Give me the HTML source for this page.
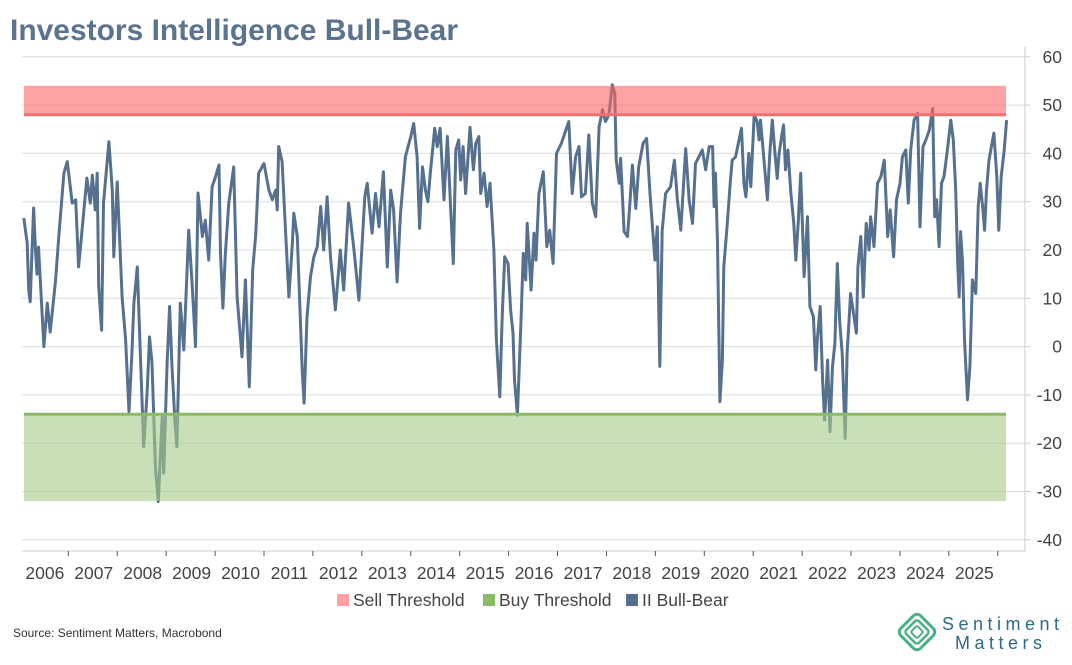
<!DOCTYPE html>
<html><head><meta charset="utf-8">
<style>
body{margin:0;background:#fff;width:1072px;height:660px;overflow:hidden;font-family:"Liberation Sans",sans-serif;}
svg text{font-family:"Liberation Sans",sans-serif;}
</style></head>
<body>
<svg id="chart" width="1072" height="660" viewBox="0 0 1072 660" xmlns="http://www.w3.org/2000/svg">
<text x="10" y="40" font-size="30" font-weight="bold" fill="#5a7391" textLength="448" lengthAdjust="spacingAndGlyphs">Investors Intelligence Bull-Bear</text>
<g id="grid"></g>
<g id="yaxis"></g>
<g id="xaxis"></g>
<g id="series"></g>
<g id="bands"></g>
<g>
  <rect x="337" y="594" width="12" height="12" fill="#fca0a0"/>
  <text x="353" y="606" font-size="17.5" fill="#444">Sell Threshold</text>
  <rect x="483" y="594" width="12" height="12" fill="#8aba68"/>
  <text x="499" y="606" font-size="17.5" fill="#444">Buy Threshold</text>
  <rect x="626" y="594" width="12" height="12" fill="#55718f"/>
  <text x="642" y="606" font-size="17.5" fill="#444">II Bull-Bear</text>
</g>
<text x="13" y="637" font-size="12" fill="#333">Source: Sentiment Matters, Macrobond</text>
<g>
  <g transform="translate(917,632) rotate(45)" fill="none" stroke="#4caf87">
    <rect x="-14" y="-14" width="28" height="28" rx="5" stroke-width="3"/>
    <rect x="-9" y="-9" width="18" height="18" rx="3" stroke-width="2.5"/>
    <rect x="-4.5" y="-4.5" width="9" height="9" rx="1.5" stroke-width="2"/>
  </g>
  <text x="942" y="630" font-size="18" fill="#2a6a8a" letter-spacing="4.5">Sentiment</text>
  <text x="955" y="649" font-size="18" fill="#2a6a8a" letter-spacing="4.5">Matters</text>
</g>
</svg>
<script>
const yTicks=[60,50,40,30,20,10,0,-10,-20,-30,-40];
const xYears=[2006,2007,2008,2009,2010,2011,2012,2013,2014,2015,2016,2017,2018,2019,2020,2021,2022,2023,2024,2025];
const sellBand=[48,54];
const buyBand=[-32,-14];
const dates=[2006.09,2006.16,2006.19,2006.22,2006.29,2006.33,2006.36,2006.39,2006.50,2006.57,2006.63,2006.74,2006.80,2006.91,2006.98,2007.08,2007.15,2007.21,2007.28,2007.38,2007.45,2007.49,2007.55,2007.59,2007.62,2007.68,2007.72,2007.83,2007.90,2007.93,2008.00,2008.10,2008.17,2008.24,2008.30,2008.34,2008.41,2008.47,2008.54,2008.61,2008.66,2008.71,2008.78,2008.84,2008.92,2008.95,2009.02,2009.07,2009.12,2009.18,2009.22,2009.29,2009.36,2009.46,2009.53,2009.60,2009.65,2009.74,2009.80,2009.87,2009.94,2010.01,2010.08,2010.11,2010.16,2010.21,2010.28,2010.38,2010.45,2010.55,2010.62,2010.70,2010.77,2010.83,2010.89,2011.00,2011.10,2011.17,2011.24,2011.27,2011.30,2011.37,2011.44,2011.51,2011.58,2011.61,2011.68,2011.78,2011.82,2011.88,2011.95,2012.02,2012.09,2012.16,2012.22,2012.29,2012.36,2012.46,2012.56,2012.63,2012.73,2012.84,2012.94,2013.06,
2013.11,2013.21,2013.28,2013.35,2013.44,2013.52,2013.59,2013.65,2013.72,2013.79,2013.89,2014.00,2014.06,2014.13,2014.18,2014.24,2014.30,2014.35,2014.40,2014.49,2014.54,2014.60,2014.68,2014.75,2014.81,2014.87,2014.92,2014.98,2015.02,2015.07,2015.12,2015.21,2015.28,2015.33,2015.39,2015.43,2015.50,2015.56,2015.62,2015.70,2015.75,2015.82,2015.87,2015.92,2015.99,2016.04,2016.09,2016.12,2016.18,2016.25,2016.30,2016.35,2016.38,2016.46,2016.52,2016.56,2016.62,2016.71,2016.78,2016.84,2016.91,2016.98,2017.08,2017.17,2017.23,2017.30,2017.37,2017.44,2017.49,2017.57,2017.64,2017.71,2017.78,2017.85,2017.92,2017.98,2018.05,2018.12,2018.17,2018.20,2018.26,2018.29,2018.36,2018.43,2018.48,2018.53,2018.60,2018.66,2018.75,2018.82,2018.89,2018.99,2019.04,2019.09,2019.14,2019.21,2019.31,2019.39,2019.45,2019.52,2019.62,2019.69,2019.76,2019.82,2019.89,
2019.96,2020.03,2020.10,2020.17,2020.20,2020.23,2020.27,2020.32,2020.37,2020.40,2020.47,2020.53,2020.57,2020.64,2020.71,2020.76,2020.81,2020.85,2020.91,2020.95,2021.02,2021.08,2021.12,2021.15,2021.22,2021.29,2021.34,2021.39,2021.44,2021.49,2021.53,2021.58,2021.62,2021.66,2021.71,2021.77,2021.83,2021.87,2021.92,2021.97,2022.04,2022.11,2022.16,2022.23,2022.28,2022.31,2022.37,2022.42,2022.46,2022.52,2022.57,2022.62,2022.67,2022.72,2022.77,2022.82,2022.88,2022.92,2022.99,2023.06,2023.11,2023.14,2023.20,2023.25,2023.31,2023.37,2023.40,2023.47,2023.54,2023.61,2023.68,2023.75,2023.80,2023.87,2023.93,2024.00,2024.05,2024.12,2024.17,2024.22,2024.29,2024.36,2024.41,2024.47,2024.53,2024.60,2024.67,2024.71,2024.75,2024.80,2024.85,2024.90,2024.97,2025.04,2025.09,2025.14,2025.18,2025.21,2025.24,2025.28,2025.32,2025.38,2025.43,2025.48,2025.55,2025.60,2025.64,2025.69,2025.73,2025.77,2025.82,2025.87,2025.92,2025.98,2026.02,2026.07,2026.13,2026.18];
const values=[26.6,21.4,11.7,9.3,28.7,20,15,20.6,0,9,3,13.8,22,35.9,38.3,29.7,30.4,16.5,24,34.9,29.7,35.5,28.3,35.9,12.4,3.4,29.7,42.4,32.4,18.6,34.1,10.3,1.4,-13.5,-1.4,9,16.5,-0.7,-20.7,-9.6,2,-3.4,-24.9,-32.1,-14.5,-26.2,-3.4,8.3,-4.1,-15.8,-20.7,9,-0.7,24.1,13.1,0,31.8,22.8,26.2,17.9,33.1,35.2,37.6,19.4,8,19.4,29.7,37.2,10.3,-2.1,13.8,-8.3,15.9,23.1,35.9,37.9,32.4,30.4,32.4,28.3,41.4,38.3,24.1,10.3,21.4,27.6,22.8,-4.8,-11.7,6.2,14.5,18.6,20.7,29,20,31,18.6,7.6,20,11.7,29.7,20,9.6,31,
33.8,23.5,31.7,24.8,36.2,16.5,32.4,28.3,13.4,27.6,39.3,43.5,46.2,39.3,24.5,37.2,32.4,30,35.9,45.2,41.4,45.2,30.4,43.5,29.7,17.2,40.7,42.8,34.5,41.4,31.7,45.4,36.6,42.1,43.5,31.7,35.9,29,33.8,20,1.4,-10.4,6.2,18.6,17.2,7.6,2.8,-6.9,-14.2,4.1,19.3,13.8,25.5,11.7,23.5,17.9,31.7,36.2,20.7,24.1,17.2,40,42.1,44.8,46.6,31.7,39.3,41.4,31,31.7,43.8,29.7,26.9,45.5,49,46.6,48,54.2,52.4,38.6,33.8,39,23.8,22.8,29.7,37.6,28.6,37.2,42.1,43.1,31.7,17.9,24.8,-4.1,24.1,31.7,33.1,38.6,30.4,24.1,41,30.4,25.5,37.9,39.3,
40.7,36.6,41.4,41.4,29,35.9,21.4,-11.4,-2.8,16.5,25.5,33.8,38.6,39.3,42.8,45.2,33.8,31,40,33.1,48,46.6,42.8,46.9,38.6,30.4,40,46.9,40.7,34.8,40,43.5,45.9,36.6,40.7,31.7,25.5,17.9,25.5,35.9,14.5,26.9,8.3,6.2,-4.8,1.4,8.3,-7.6,-15.2,-2.8,-17.6,-4.1,0.7,17.2,4.8,-1.4,-19,-1.4,11,6.2,2.8,16.5,22.8,10.3,25.5,20,26.9,20.7,33.8,35.2,38.6,22.8,28.3,18.6,30.4,33.8,39.3,40.7,29.7,40.7,46.9,48.3,24.8,41.4,42.8,44.8,49.3,26.9,30.4,20.7,33.8,35.2,40.7,46.9,42.8,32.4,17.2,10.3,23.8,17.2,1.4,-11,-4.1,13.8,11,29,33.8,29,24.1,32.4,38.6,41.4,44.2,35.2,24.1,35.2,40.7,46.9];

const NS='http://www.w3.org/2000/svg';
const X0=19.4, PXY=48.92, plotL=22, plotR=1025, bandL=24, bandR=1006;
function xs(d){return X0+(d-2006)*PXY;}
function ys(v){return 346.6-v*4.83;}
function mk(tag,attrs,parent){const e=document.createElementNS(NS,tag);for(const k in attrs)e.setAttribute(k,attrs[k]);parent.appendChild(e);return e;}
const grid=document.getElementById('grid'),yax=document.getElementById('yaxis'),xax=document.getElementById('xaxis'),ser=document.getElementById('series'),bands=document.getElementById('bands');
yTicks.forEach(t=>{
  const g=mk('line',{x1:plotL,x2:plotR,y1:ys(t),y2:ys(t),stroke:'#dcdcdc','stroke-width':1},grid);
  
  
  const tk=mk('line',{x1:plotR,x2:plotR+5,y1:ys(t),y2:ys(t),stroke:'#ccc','stroke-width':1},yax);
  
  
  const tx=mk('text',{x:1062,y:ys(t)+6,'font-size':17.5,fill:'#444','text-anchor':'end'},yax);
  
  
  tx.textContent=t;
});
const ya=mk('line',{x1:plotR,x2:plotR,y1:46,y2:551,stroke:'#ccc','stroke-width':1},yax);


const xa=mk('line',{x1:plotL,x2:plotR,y1:551,y2:551,stroke:'#ccc','stroke-width':1},xax);


xYears.forEach(yr=>{
  if(yr>2006){const tk=mk('line',{x1:xs(yr),x2:xs(yr),y1:551,y2:556,stroke:'#555','stroke-width':1},xax);
  
  }
  const tx=mk('text',{x:xs(yr+0.5)+1,y:579,'font-size':17.5,fill:'#444','text-anchor':'middle'},xax);
  
  
  tx.textContent=yr;
});
const lastTk=mk('line',{x1:xs(2026),x2:xs(2026),y1:551,y2:556,stroke:'#555','stroke-width':1},xax);


let d='';
dates.forEach((dt,i)=>{d+=(i?'L':'M')+xs(dt).toFixed(1)+' '+ys(values[i]).toFixed(1);});
const line=mk('path',{d:d,fill:'none',stroke:'#55718f','stroke-width':3,'stroke-linejoin':'round'},ser);


const sb=mk('rect',{x:bandL,width:bandR-bandL,y:ys(sellBand[1]),height:ys(sellBand[0])-ys(sellBand[1]),fill:'rgb(252,100,100)','fill-opacity':0.6},bands);


const sl=mk('line',{x1:bandL,x2:bandR,y1:ys(sellBand[0]),y2:ys(sellBand[0]),stroke:'#f07070','stroke-width':3},bands);


const bb=mk('rect',{x:bandL,width:bandR-bandL,y:ys(buyBand[1]),height:ys(buyBand[0])-ys(buyBand[1]),fill:'rgb(165,202,137)','fill-opacity':0.6},bands);


const bl=mk('line',{x1:bandL,x2:bandR,y1:ys(buyBand[1]),y2:ys(buyBand[1]),stroke:'#8aba68','stroke-width':3},bands);


</script>
</body></html>
